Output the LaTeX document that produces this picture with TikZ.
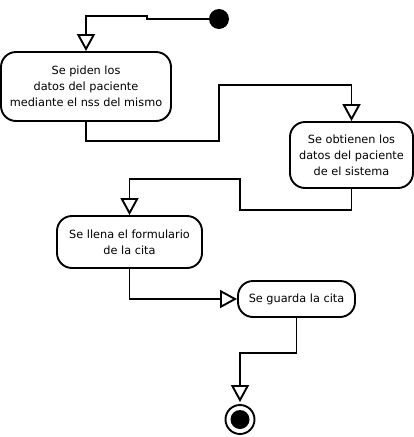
\documentclass[tikz,border=0pt]{standalone}
\usepackage{fontspec}
\setmainfont{DejaVu Sans}
\usepackage{tikz}
\usetikzlibrary{positioning,arrows.meta}

\begin{document}
\begin{tikzpicture}[x=1pt, y=-1pt,
    actividad/.style={draw, line width=1.9pt, rounded corners=15pt, align=center,
        font=\fontsize{11.3}{16}\selectfont, inner sep=0pt},
    flujo/.style={line width=1.9pt, -{Triangle[open, length=17pt, width=18pt]}}]
    % Page frame
    \useasboundingbox (0,0) rectangle (414,437);

    % Initial and final states
    \fill (219,19) circle (10);
    \node[circle, minimum size=20pt, inner sep=0pt] (inicio) at (219,19) {};
    \node[circle, draw, line width=1.9pt, minimum size=29pt, inner sep=0pt] (fin) at (240,419.5) {};
    \fill (fin.center) circle (9.5);

    % Activities
    \node[actividad, minimum width=170pt, minimum height=69pt] (pedir) at (86,86.5)
        {Se piden los\\datos del paciente\\mediante el nss del mismo};
    \node[actividad, minimum width=123pt, minimum height=66pt] (obtener) at (351.5,155)
        {Se obtienen los\\datos del paciente\\de el sistema};
    \node[actividad, minimum width=145pt, minimum height=52pt] (llenar) at (129.5,242)
        {Se llena el formulario\\de la cita};
    \node[actividad, minimum width=117pt, minimum height=36pt] (guardar) at (296.5,299)
        {Se guarda la cita};

    % Flow
    \draw[flujo] (inicio.west) -- (147,19) -- (147,16) -| (pedir.north);
    \draw[flujo] (pedir.south) |- (219,141) -- (219,85) -| (obtener.north);
    \draw[flujo] (obtener.south) |- (240,210) -- (240,179) -| (llenar.north);
    \draw[flujo] (llenar.south) |- (guardar.west);
    \draw[flujo] (guardar.south) |- (240,353) -- ([yshift=2pt]fin.north);
\end{tikzpicture}
\end{document}
